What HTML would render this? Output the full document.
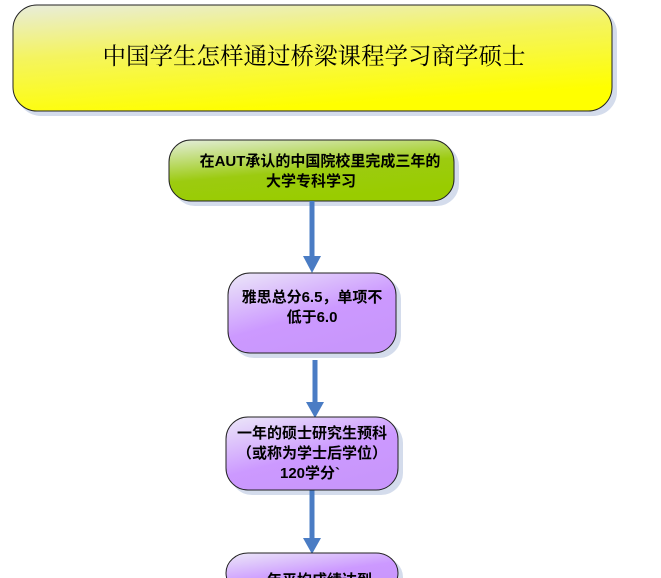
<!DOCTYPE html>
<html><head><meta charset="utf-8"><style>
html,body{margin:0;padding:0;background:#fff;width:661px;height:578px;overflow:hidden}
text{font-family:"Liberation Sans","Noto Sans CJK SC",sans-serif}
</style></head><body>
<svg width="661" height="578" viewBox="0 0 661 578" xmlns="http://www.w3.org/2000/svg">
<defs>
<linearGradient id="gy" x1="0" y1="0" x2="0.35" y2="1"><stop offset="0" stop-color="#e8ecdc"/><stop offset="0.45" stop-color="#f4f460"/><stop offset="1" stop-color="#ffff00"/></linearGradient>
<linearGradient id="gg" x1="0" y1="0" x2="0.4" y2="1"><stop offset="0" stop-color="#e4eedc"/><stop offset="0.6" stop-color="#9ccb10"/><stop offset="1" stop-color="#99cc00"/></linearGradient>
<linearGradient id="gp" x1="0" y1="0" x2="0.6" y2="1"><stop offset="0" stop-color="#ece8f8"/><stop offset="0.6" stop-color="#cc99ff"/><stop offset="1" stop-color="#c896fb"/></linearGradient>
</defs>
<g fill="#d4dcec">
<rect x="17" y="9" width="600" height="107" rx="24"/>
<rect x="173" y="144" width="286" height="62" rx="22"/>
<rect x="232" y="277" width="169" height="81" rx="22"/>
<rect x="230" y="421" width="173" height="74" rx="22"/>
<rect x="230" y="557" width="173" height="40" rx="22"/>
</g>
<rect x="13" y="5" width="599" height="106" rx="24" fill="url(#gy)" stroke="#222" stroke-width="1"/>
<text x="314" y="64" font-size="23.5" text-anchor="middle" fill="#000" style="font-family:'Liberation Serif','Noto Serif CJK SC',serif">中国学生怎样通过桥梁课程学习商学硕士</text>
<rect x="169" y="140" width="285" height="61" rx="22" fill="url(#gg)" stroke="#222" stroke-width="1"/>
<text font-size="15" font-weight="bold" text-anchor="middle" fill="#000"><tspan x="320" y="166">在AUT承认的中国院校里完成三年的</tspan><tspan x="311" y="186">大学专科学习</tspan></text>
<g stroke="#4a7cc4" stroke-width="5"><line x1="312" y1="201" x2="312" y2="258"/><line x1="315" y1="360" x2="315" y2="404"/><line x1="312" y1="490" x2="312" y2="540"/></g>
<g fill="#4a7cc4"><path d="M303 256 L321 256 L312 273 Z"/><path d="M306 402 L324 402 L315 418 Z"/><path d="M303 538 L321 538 L312 554 Z"/></g>
<rect x="228" y="273" width="168" height="80" rx="22" fill="url(#gp)" stroke="#222" stroke-width="1"/>
<text font-size="15" font-weight="bold" text-anchor="middle" fill="#000"><tspan x="312" y="302">雅思总分6.5，单项不</tspan><tspan x="312" y="322">低于6.0</tspan></text>
<rect x="226" y="417" width="172" height="73" rx="22" fill="url(#gp)" stroke="#222" stroke-width="1"/>
<text font-size="15" font-weight="bold" text-anchor="middle" fill="#000"><tspan x="312" y="438">一年的硕士研究生预科</tspan><tspan x="312" y="458">（或称为学士后学位）</tspan><tspan x="310" y="478">120学分`</tspan></text>
<rect x="226" y="553" width="172" height="40" rx="22" fill="url(#gp)" stroke="#222" stroke-width="1"/>
<text x="312" y="585" font-size="15" font-weight="bold" text-anchor="middle" fill="#000">一年平均成绩达到</text>
</svg>
</body></html>
